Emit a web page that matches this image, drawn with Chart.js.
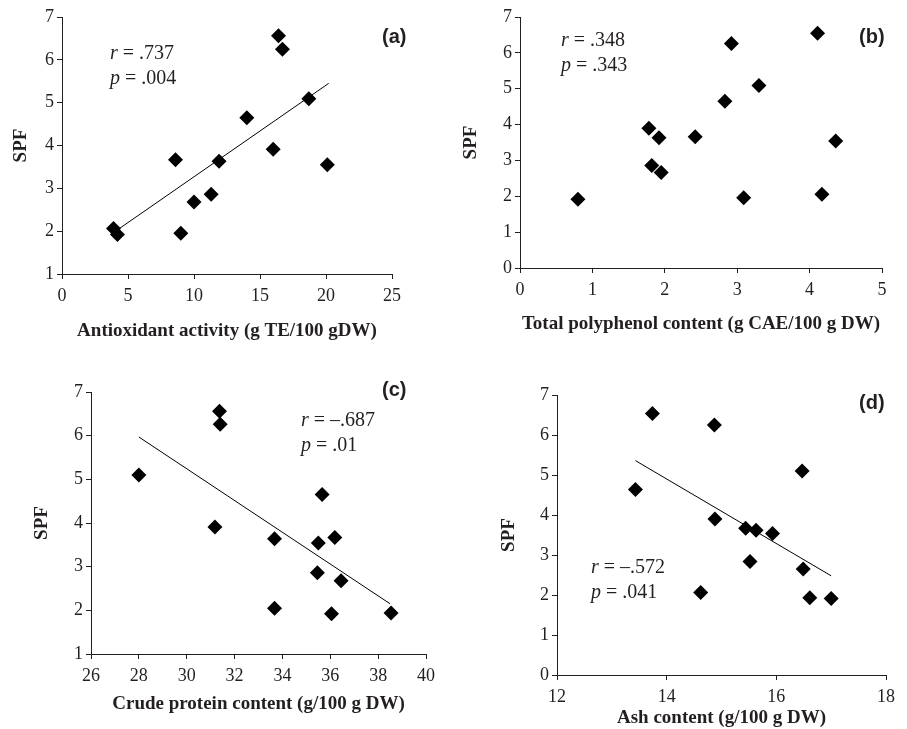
<!DOCTYPE html>
<html>
<head>
<meta charset="utf-8">
<script src="https://cdn.jsdelivr.net/npm/chart.js@4.4.1/dist/chart.umd.min.js"></script>
<style>
  html, body { margin: 0; padding: 0; background: #fff; }
  #wrap { position: relative; width: 907px; height: 729px; overflow: hidden; }
  .panel { position: absolute; }
  .note { position: absolute; font-family: "Liberation Serif", serif; font-size: 20px; color: #231f20; line-height: 25px; white-space: nowrap; }
  .tag { position: absolute; font-family: "Liberation Sans", sans-serif; font-weight: bold; font-size: 20px; color: #231f20; }
</style>
</head>
<body>
<div id="wrap">
  <div class="panel" style="left:0;top:0;width:450px;height:360px"><canvas id="chartA"></canvas></div>
  <div class="panel" style="left:450px;top:0;width:457px;height:360px"><canvas id="chartB"></canvas></div>
  <div class="panel" style="left:0;top:360px;width:450px;height:369px"><canvas id="chartC"></canvas></div>
  <div class="panel" style="left:450px;top:360px;width:457px;height:369px"><canvas id="chartD"></canvas></div>

  <div class="note" style="left:110px;top:40px"><i>r</i> = .737<br><i>p</i> = .004</div>
  <div class="note" style="left:561px;top:27px"><i>r</i> = .348<br><i>p</i> = .343</div>
  <div class="note" style="left:301px;top:407px"><i>r</i> = &ndash;.687<br><i>p</i> = .01</div>
  <div class="note" style="left:591px;top:554px"><i>r</i> = &ndash;.572<br><i>p</i> = .041</div>

  <div class="tag" style="left:382px;top:25px">(a)</div>
  <div class="tag" style="left:859px;top:25px">(b)</div>
  <div class="tag" style="left:382px;top:378px">(c)</div>
  <div class="tag" style="left:859px;top:391px">(d)</div>
</div>

<script>
// (a) antioxidant activity vs SPF
const antioxX = [3.9, 4.2, 8.6, 9.0, 10.0, 11.3, 11.9, 14.0, 16.0, 16.4, 16.7, 18.7, 20.1];
const antioxSPF = [2.06, 1.92, 3.67, 1.95, 2.68, 2.86, 3.63, 4.65, 3.91, 6.56, 6.25, 5.09, 3.55];
const antioxFitX = [4.2, 20.2];
const antioxFitY = [2.03, 5.45];

// (b) total polyphenol content vs SPF
const polyX = [0.80, 1.78, 1.82, 1.92, 1.95, 2.42, 2.83, 2.92, 3.09, 3.30, 4.11, 4.17, 4.36];
const polySPF = [1.92, 3.90, 2.86, 3.63, 2.66, 3.66, 4.65, 6.26, 1.96, 5.09, 6.55, 2.06, 3.54];

// (c) crude protein content vs SPF
const proteinX = [28.0, 31.37, 31.4, 31.18, 33.67, 33.67, 35.66, 35.5, 36.19, 35.46, 36.45, 36.05, 38.54];
const proteinSPF = [5.10, 6.56, 6.26, 3.91, 3.64, 2.05, 4.65, 3.54, 3.67, 2.86, 2.68, 1.92, 1.94];
const proteinFitX = [28.0, 38.5];
const proteinFitY = [5.97, 2.15];

// (d) ash content vs SPF
const ashX = [13.43, 13.74, 14.62, 14.87, 14.88, 15.44, 15.63, 15.52, 15.93, 16.47, 16.49, 16.61, 17.0];
const ashSPF = [4.64, 6.54, 2.06, 6.25, 3.90, 3.67, 3.62, 2.84, 3.54, 5.10, 2.65, 1.93, 1.91];
const ashFitX = [13.43, 17.0];
const ashFitY = [5.36, 2.48];

// axis ranges: [min, max, step]
const antioxTicks = [0, 25, 5];
const polyTicks = [0, 5, 1];
const proteinTicks = [26, 40, 2];
const ashTicks = [12, 18, 2];
const spfTicksA = [1, 7, 1];
const spfTicksB = [0, 7, 1];
const spfTicksC = [1, 7, 1];
const spfTicksD = [0, 7, 1];

const ink = '#231f20';
const serif = 'Liberation Serif';

function pairs(xs, ys) {
  return xs.map((x, i) => ({ x: x, y: ys[i] }));
}

function makePanel(id, xs, ys, fitX, fitY, xt, yt, xTitle, box) {
  const datasets = [{
    data: pairs(xs, ys),
    pointStyle: 'rectRot',
    pointRadius: 7.5,
    pointHoverRadius: 7.5,
    backgroundColor: '#000',
    borderWidth: 0
  }];
  if (fitX) {
    datasets.push({
      data: pairs(fitX, fitY),
      showLine: true,
      pointRadius: 0,
      borderColor: '#000',
      borderWidth: 1
    });
  }
  new Chart(document.getElementById(id), {
    type: 'scatter',
    data: { datasets: datasets },
    options: {
      responsive: true,
      maintainAspectRatio: false,
      animation: false,
      events: [],
      layout: { padding: { left: 0, top: box.top, right: box.right, bottom: 0 } },
      plugins: { legend: { display: false }, tooltip: { enabled: false } },
      scales: {
        x: {
          type: 'linear', min: xt[0], max: xt[1],
          afterFit: s => { s.height = box.xh; },
          ticks: { stepSize: xt[2], color: ink, padding: 6, font: { family: serif, size: 18 } },
          grid: { drawOnChartArea: false, drawTicks: true, tickLength: 5, color: ink },
          border: { display: true, color: ink, width: 1 },
          title: { display: true, text: xTitle, color: ink, padding: { top: 0, bottom: box.xtp },
                   font: { family: serif, size: 19, weight: 'bold' } }
        },
        y: {
          type: 'linear', min: yt[0], max: yt[1],
          afterFit: s => { s.width = box.yw; },
          ticks: { stepSize: yt[2], color: ink, padding: 3, font: { family: serif, size: 18 } },
          grid: { drawOnChartArea: false, drawTicks: true, tickLength: 5, color: ink },
          border: { display: true, color: ink, width: 1 },
          title: { display: true, text: 'SPF', color: ink, padding: { top: box.ytp, bottom: 0 },
                   font: { family: serif, size: 19, weight: 'bold' } }
        }
      }
    }
  });
}

makePanel('chartA', antioxX, antioxSPF, antioxFitX, antioxFitY, antioxTicks, spfTicksA,
  'Antioxidant activity (g TE/100 gDW)', { top: 17, right: 58, xh: 86, yw: 62, xtp: 18, ytp: 10 });
makePanel('chartB', polyX, polySPF, null, null, polyTicks, spfTicksB,
  'Total polyphenol content (g CAE/100 g DW)', { top: 17, right: 25, xh: 92, yw: 70, xtp: 25, ytp: 10 });
makePanel('chartC', proteinX, proteinSPF, proteinFitX, proteinFitY, proteinTicks, spfTicksC,
  'Crude protein content (g/100 g DW)', { top: 32, right: 24, xh: 75, yw: 91, xtp: 14, ytp: 31 });
makePanel('chartD', ashX, ashSPF, ashFitX, ashFitY, ashTicks, spfTicksD,
  'Ash content (g/100 g DW)', { top: 35, right: 21, xh: 54, yw: 107, xtp: 0, ytp: 48 });
</script>
</body>
</html>
